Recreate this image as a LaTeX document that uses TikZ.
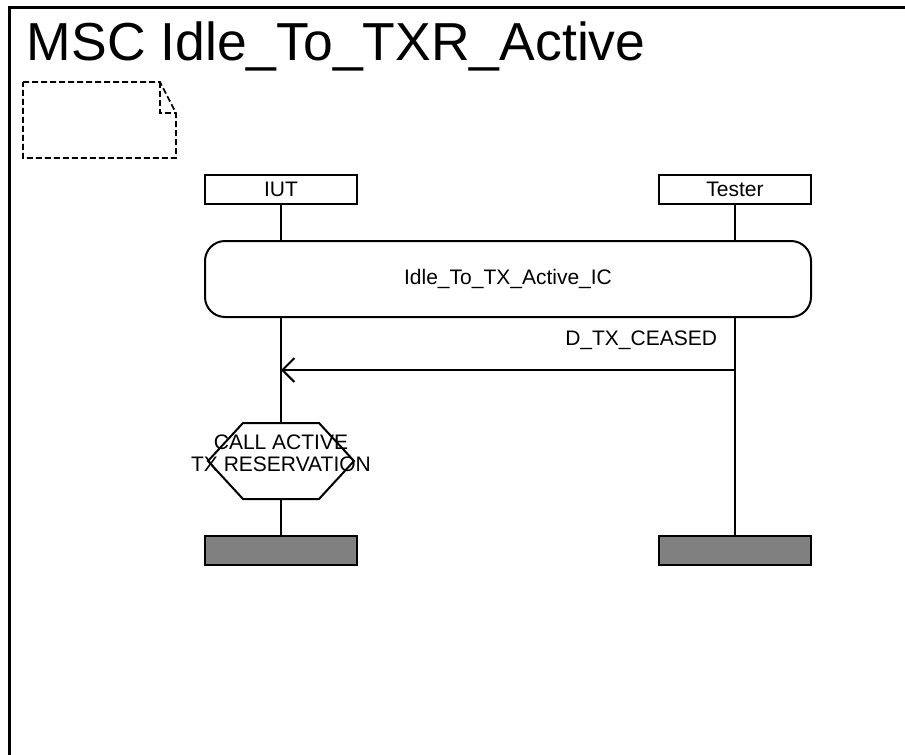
\documentclass[tikz,border=0pt]{standalone}
\usepackage{fontspec}
\setmainfont{Liberation Sans}
\usetikzlibrary{arrows.meta}
\definecolor{endgray}{HTML}{808080}
\begin{document}
\begin{tikzpicture}[x=1pt,y=-1pt, line width=2pt,
  txt/.style={font=\fontsize{21}{24}\selectfont, inner sep=0pt},
  inst/.style={draw, minimum width=152pt, minimum height=29pt, inner sep=0pt, outer sep=0pt, font=\fontsize{21}{24}\selectfont},
  endbox/.style={draw, fill=endgray, minimum width=152pt, minimum height=29pt, inner sep=0pt, outer sep=0pt},
  inline/.style={draw, rounded corners=20pt, minimum width=606pt, minimum height=76pt, inner sep=0pt, outer sep=0pt, font=\fontsize{21}{24}\selectfont},
  notebox/.style={dash pattern=on 6pt off 3pt, line width=1.7pt},
  msg/.style={-{Straight Barb[length=12pt,width=24pt,line width=2pt]}}
]
\useasboundingbox (0,0) rectangle (905,755);
\clip (0,0) rectangle (905,755);
\fill[white] (0,0) rectangle (905,755);
% frame
\draw[line width=2.8pt] (9.3,780) -- (9.3,7.5) -- (930,7.5);
% title
\node[anchor=base west, inner sep=0pt, font=\fontsize{53.5}{60}\selectfont] (title) at (26,60) {MSC Idle\_To\_TXR\_Active};
% note
\draw[notebox] (23,82) -- (160,82) -- (176,113) -- (176,158) -- (23,158) -- cycle;
\draw[notebox] (160,82) -- (160,113) -- (176,113);
% instances
\node[inst] (iut) at (281,189) {IUT};
\node[inst] (tester) at (735,189) {Tester};
% inline
\node[inline] (inl) at (508,279) {Idle\_To\_TX\_Active\_IC};
% condition
\coordinate (cond) at (281,461);
\coordinate (condtop) at (281,423);
\coordinate (condbot) at (281,499);
\draw (243,423) -- (319,423) -- (354,461) -- (319,499) -- (243,499) -- (208,461) -- cycle;
\node[txt, align=center, font=\fontsize{21}{22}\selectfont] (condtxt) at (281,453) {CALL ACTIVE\\TX RESERVATION};
% end boxes
\node[endbox] (iutend) at (281,550.5) {};
\node[endbox] (testerend) at (735,550.5) {};
% lifelines
\draw (iut.south) -- (inl.north -| iut.south);
\draw (tester.south) -- (inl.north -| tester.south);
\draw (inl.south -| iut.south) -- (condtop);
\draw (condbot) -- (iutend.north);
\draw (inl.south -| tester.south) -- (testerend.north);
% message
\coordinate (msgfrom) at (735,370);
\coordinate (msgto) at (281,370);
\draw[msg] (msgfrom) -- (msgto);
\node[txt, anchor=base east] (msglbl) at (718,345) {D\_TX\_CEASED};
\end{tikzpicture}
\end{document}
